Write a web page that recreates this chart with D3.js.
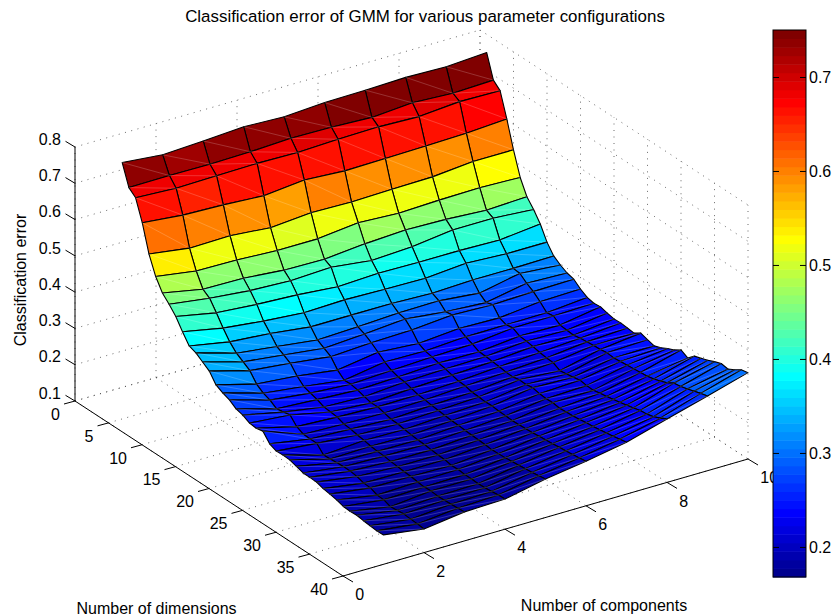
<!DOCTYPE html>
<html>
<head>
<meta charset="utf-8">
<style>
    body { margin: 0; background: #fff; }
    text { font-family: "Liberation Sans", Arial, sans-serif; fill: #000; }
</style>
<script src="https://d3js.org/d3.v7.min.js"></script>
</head>
<body>
<div id="chart"></div>
<script>
// values: one row per number of dimensions, one column per number of components
const components = [1, 2, 3, 4, 5, 6, 7, 8, 9, 10];
const dimensions = d3.range(1, 41);
const errorRows = [
    [.737, .726, .732, .739, .734, .741, .743, .746, .743, .750],
    [.680, .681, .680, .682, .687, .685, .680, .688, .682, .686],
    [.664, .658, .660, .662, .660, .664, .666, .662, .671, .669],
    [.607, .596, .592, .585, .596, .589, .591, .593, .596, .603],
    [.533, .517, .519, .509, .518, .515, .518, .520, .530, .530],
    [.483, .466, .464, .458, .458, .470, .464, .468, .470, .466],
    [.450, .428, .426, .416, .414, .424, .430, .427, .420, .425],
    [.431, .415, .404, .399, .404, .390, .396, .410, .410, .402],
    [.409, .387, .378, .372, .362, .367, .365, .365, .362, .374],
    [.379, .357, .344, .335, .338, .335, .333, .342, .336, .336],
    [.352, .331, .322, .308, .308, .308, .304, .308, .308, .310],
    [.345, .312, .298, .284, .288, .294, .295, .284, .306, .297],
    [.332, .300, .287, .273, .280, .289, .277, .270, .291, .287],
    [.319, .288, .276, .262, .268, .271, .280, .276, .280, .282],
    [.293, .263, .253, .237, .254, .246, .255, .252, .264, .267],
    [.283, .250, .236, .221, .239, .237, .244, .245, .246, .256],
    [.276, .243, .230, .222, .228, .233, .236, .248, .249, .252],
    [.263, .231, .224, .218, .222, .228, .227, .238, .236, .254],
    [.258, .234, .216, .212, .220, .224, .226, .236, .234, .249],
    [.248, .238, .214, .207, .214, .219, .224, .233, .232, .245],
    [.246, .218, .212, .208, .209, .214, .222, .229, .236, .246],
    [.250, .209, .205, .203, .207, .213, .219, .226, .238, .244],
    [.227, .208, .203, .198, .204, .208, .218, .225, .240, .242],
    [.219, .208, .199, .197, .202, .207, .222, .215, .241, .254],
    [.220, .188, .196, .194, .200, .205, .221, .218, .244, .248],
    [.219, .189, .192, .191, .198, .206, .224, .221, .242, .243],
    [.213, .191, .190, .189, .197, .204, .220, .225, .244, .250],
    [.207, .192, .189, .188, .195, .203, .218, .222, .246, .260],
    [.207, .192, .186, .186, .194, .202, .219, .221, .248, .268],
    [.206, .189, .184, .184, .193, .203, .216, .225, .250, .280],
    [.200, .183, .182, .183, .192, .204, .218, .228, .252, .270],
    [.197, .182, .181, .179, .190, .205, .219, .232, .256, .287],
    [.193, .174, .178, .180, .191, .207, .221, .236, .262, .293],
    [.187, .173, .176, .178, .192, .209, .224, .240, .270, .300],
    [.186, .166, .177, .178, .194, .211, .226, .245, .281, .308],
    [.187, .168, .175, .177, .196, .213, .229, .250, .284, .315],
    [.184, .170, .176, .178, .198, .215, .232, .252, .289, .312],
    [.182, .168, .177, .180, .200, .217, .235, .257, .295, .322],
    [.180, .167, .178, .182, .203, .220, .239, .265, .301, .334],
    [.181, .165, .180, .183, .206, .223, .243, .275, .306, .338]
];
const xTicks = [0, 2, 4, 6, 8, 10];
const yTicks = [0, 5, 10, 15, 20, 25, 30, 35, 40];
const zTicks = [0.1, 0.2, 0.3, 0.4, 0.5, 0.6, 0.7, 0.8];
const barTicks = [0.2, 0.3, 0.4, 0.5, 0.6, 0.7];

const width = 834;
const height = 616;

const svg = d3.select('#chart')
    .append('svg')
    .attr('width', width)
    .attr('height', height)
    .style('display', 'block');

// the view is orthographic, so each data axis is a pair of linear scales on the page
const xToLeft = d3.scaleLinear().domain([0, 10]).range([0, 405]);
const xToTop = d3.scaleLinear().domain([0, 10]).range([0, -117]);
const yToLeft = d3.scaleLinear().domain([0, 40]).range([75, 343]);
const yToTop = d3.scaleLinear().domain([0, 40]).range([401, 576]);
const zToTop = d3.scaleLinear().domain([0.1, 0.8]).range([0, -254]);

function project(x, y, z) {
    return [xToLeft(x) + yToLeft(y), xToTop(x) + yToTop(y) + zToTop(z)];
}

// matlab jet, 64 steps
function jet(i) {
    const v = (i + 1) / 64 * 4;
    const part = c => Math.round(255 * Math.max(0, Math.min(1, Math.min(v - c + 1.5, c + 1.5 - v))));
    return `rgb(${part(3)},${part(2)},${part(1)})`;
}
const color = d3.scaleQuantize()
    .domain([0.168, 0.75])
    .range(d3.range(64).map(jet));

// dotted grid on the floor and the two back walls
const gridLines = [];
yTicks.forEach(y => gridLines.push([[0, y, 0.1], [10, y, 0.1]], [[10, y, 0.1], [10, y, 0.8]]));
xTicks.forEach(x => gridLines.push([[x, 0, 0.1], [x, 40, 0.1]], [[x, 0, 0.1], [x, 0, 0.8]]));
zTicks.forEach(z => gridLines.push([[0, 0, z], [10, 0, z]], [[10, 0, z], [10, 40, z]]));

svg.append('g')
    .selectAll('line')
    .data(gridLines)
    .join('line')
    .attr('x1', d => project(...d[0])[0])
    .attr('y1', d => project(...d[0])[1])
    .attr('x2', d => project(...d[1])[0])
    .attr('y2', d => project(...d[1])[1])
    .attr('stroke', '#444')
    .attr('stroke-width', 0.8)
    .attr('stroke-dasharray', '1 5.5');

// axis lines
const axisLines = [
    [[0, 0, 0.1], [0, 0, 0.8]],
    [[0, 0, 0.1], [0, 40, 0.1]],
    [[0, 40, 0.1], [10, 40, 0.1]]
];
svg.append('g')
    .selectAll('line')
    .data(axisLines)
    .join('line')
    .attr('x1', d => project(...d[0])[0])
    .attr('y1', d => project(...d[0])[1])
    .attr('x2', d => project(...d[1])[0])
    .attr('y2', d => project(...d[1])[1])
    .attr('stroke', '#000');

function addTicks(values, base, dx, dy, labelDx, labelDy, anchor) {
    const g = svg.append('g');
    g.selectAll('line')
        .data(values)
        .join('line')
        .attr('x1', d => base(d)[0])
        .attr('y1', d => base(d)[1])
        .attr('x2', d => base(d)[0] + dx)
        .attr('y2', d => base(d)[1] + dy)
        .attr('stroke', '#000');
    g.selectAll('text')
        .data(values)
        .join('text')
        .attr('x', d => base(d)[0] + labelDx)
        .attr('y', d => base(d)[1] + labelDy)
        .attr('dy', '0.36em')
        .attr('text-anchor', anchor)
        .attr('font-size', 16)
        .text(d => d);
}
addTicks(zTicks, z => project(0, 0, z), -9.5, -5.7, -14, -8, 'end');
addTicks(yTicks, y => project(0, y, 0.1), -11, 3, -15, 13, 'end');
addTicks(xTicks, x => project(x, 40, 0.1), 10, 6, 12.3, 18.5, 'start');

// surface cells, far ones first, coloured from their first corner like matlab does
const cells = [];
dimensions.slice(0, -1).forEach((y, j) => {
    d3.range(components.length - 2, -1, -1).forEach(i => cells.push({ i, j }));
});
function corner(i, j) {
    return project(components[i], dimensions[j], errorRows[j][i]);
}

const surface = svg.append('g');
surface.selectAll('path')
    .data(cells)
    .join('path')
    .attr('d', c => 'M' + [corner(c.i, c.j), corner(c.i + 1, c.j), corner(c.i + 1, c.j + 1), corner(c.i, c.j + 1)].join('L') + 'Z')
    .attr('fill', c => color(errorRows[c.j][c.i]))
    .attr('stroke', '#000')
    .attr('stroke-width', 1.1)
    .attr('stroke-linejoin', 'round');

// the faint seam where the renderer split each cell into two triangles
surface.selectAll('line')
    .data(cells)
    .join('line')
    .attr('x1', c => corner(c.i, c.j)[0])
    .attr('y1', c => corner(c.i, c.j)[1])
    .attr('x2', c => corner(c.i + 1, c.j + 1)[0])
    .attr('y2', c => corner(c.i + 1, c.j + 1)[1])
    .attr('stroke', '#fff')
    .attr('stroke-opacity', 0.28)
    .attr('stroke-width', 0.7);

// titles
svg.append('text')
    .attr('x', 425)
    .attr('y', 21.5)
    .attr('text-anchor', 'middle')
    .attr('font-size', 16.9)
    .text('Classification error of GMM for various parameter configurations');
svg.append('text')
    .attr('x', 156.5)
    .attr('y', 613.5)
    .attr('text-anchor', 'middle')
    .attr('font-size', 16)
    .text('Number of dimensions');
svg.append('text')
    .attr('x', 604)
    .attr('y', 610.5)
    .attr('text-anchor', 'middle')
    .attr('font-size', 16)
    .text('Number of components');
svg.append('text')
    .attr('transform', 'translate(26,280) rotate(-90)')
    .attr('text-anchor', 'middle')
    .attr('font-size', 16)
    .text('Classification error');

// colour bar
const barLeft = 773;
const barRight = 806;
const barScale = d3.scaleLinear().domain([0.168, 0.75]).range([577, 30]);

const bar = svg.append('g');
bar.selectAll('rect')
    .data(color.range())
    .join('rect')
    .attr('x', barLeft)
    .attr('y', d => barScale(color.invertExtent(d)[1]))
    .attr('width', barRight - barLeft)
    .attr('height', d => barScale(color.invertExtent(d)[0]) - barScale(color.invertExtent(d)[1]) + 0.5)
    .attr('fill', d => d);

bar.append('rect')
    .attr('x', barLeft)
    .attr('y', 30)
    .attr('width', barRight - barLeft)
    .attr('height', 547)
    .attr('fill', 'none')
    .attr('stroke', '#000');

const barAxisRight = d3.axisRight(barScale)
    .tickValues(barTicks)
    .tickSizeOuter(0)
    .tickSizeInner(-6)
    .tickPadding(3)
    .tickFormat(d3.format('.1f'));
const barAxisLeft = d3.axisLeft(barScale)
    .tickValues(barTicks)
    .tickSizeOuter(0)
    .tickSizeInner(-6)
    .tickFormat('');

function styleBarAxis(g) {
    g.select('.domain').remove();
    g.selectAll('text').attr('font-size', 16).attr('font-family', '"Liberation Sans", Arial, sans-serif');
}
svg.append('g').attr('transform', `translate(${barRight},0)`).call(barAxisRight).call(styleBarAxis);
svg.append('g').attr('transform', `translate(${barLeft},0)`).call(barAxisLeft).call(styleBarAxis);
</script>
</body>
</html>
